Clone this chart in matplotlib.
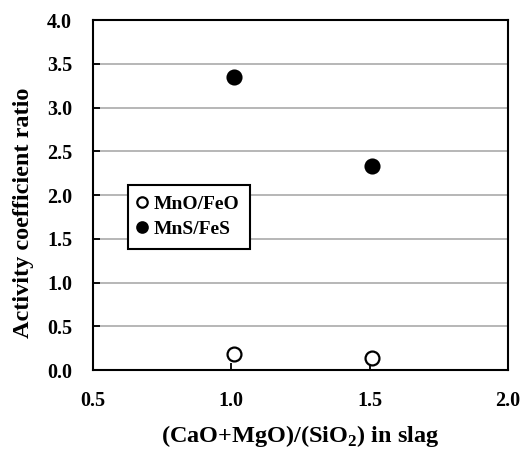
import numpy as np
import matplotlib.pyplot as plt

plt.rcParams['font.family'] = ['Liberation Serif', 'DejaVu Serif']
plt.rcParams['font.weight'] = 'bold'
plt.rcParams['mathtext.fontset'] = 'custom'
plt.rcParams['mathtext.bf'] = 'Liberation Serif:bold'

## data
basicity = [1.01, 1.51]
mno_feo = [0.18, 0.14]
mns_fes = [3.35, 2.33]

fig = plt.figure(figsize=(5.24, 4.51), dpi=100)
ax = fig.add_axes([0.1775, 0.1796, 0.792, 0.776])

ax.plot(basicity, mno_feo, 'o', ms=10, mfc='white', mec='black', mew=1.6,
        label='MnO/FeO', clip_on=False, zorder=3)
ax.plot(basicity, mns_fes, 'o', ms=10, mfc='black', mec='black', mew=1.6,
        label='MnS/FeS', clip_on=False, zorder=3)

ax.set_xlim(0.5, 2.0)
ax.set_ylim(0.0, 4.0)
ax.set_xticks(np.arange(0.5, 2.01, 0.5))
ax.set_yticks(np.arange(0.0, 4.01, 0.5))
ax.set_xticklabels(['%.1f' % v for v in np.arange(0.5, 2.01, 0.5)])
ax.set_yticklabels(['%.1f' % v for v in np.arange(0.0, 4.01, 0.5)])
ax.grid(axis='y', color='#aaaaaa', linewidth=1.2)
ax.set_axisbelow(True)
ax.tick_params(direction='in', length=5, width=1.3, labelsize=14.5, pad=15)
for s in ax.spines.values():
    s.set_linewidth(1.5)

ax.set_xlabel('(CaO+MgO)/(SiO$_\\mathbf{2}$) in slag', fontsize=17.5,
              fontweight='bold', labelpad=9)
ax.set_ylabel('Activity coefficient ratio', fontsize=17.5, fontweight='bold')
ax.yaxis.set_label_coords(-0.142, 0.45)

leg = ax.legend(loc='upper left', bbox_to_anchor=(0.084, 0.53), fancybox=False,
                framealpha=1, edgecolor='black', fontsize=14, markerscale=0.75,
                handlelength=0.4, handletextpad=0.35, borderpad=0.55,
                labelspacing=0.4, borderaxespad=0)
leg.get_frame().set_linewidth(1.5)

plt.savefig('out.png', dpi=100, facecolor='white')
